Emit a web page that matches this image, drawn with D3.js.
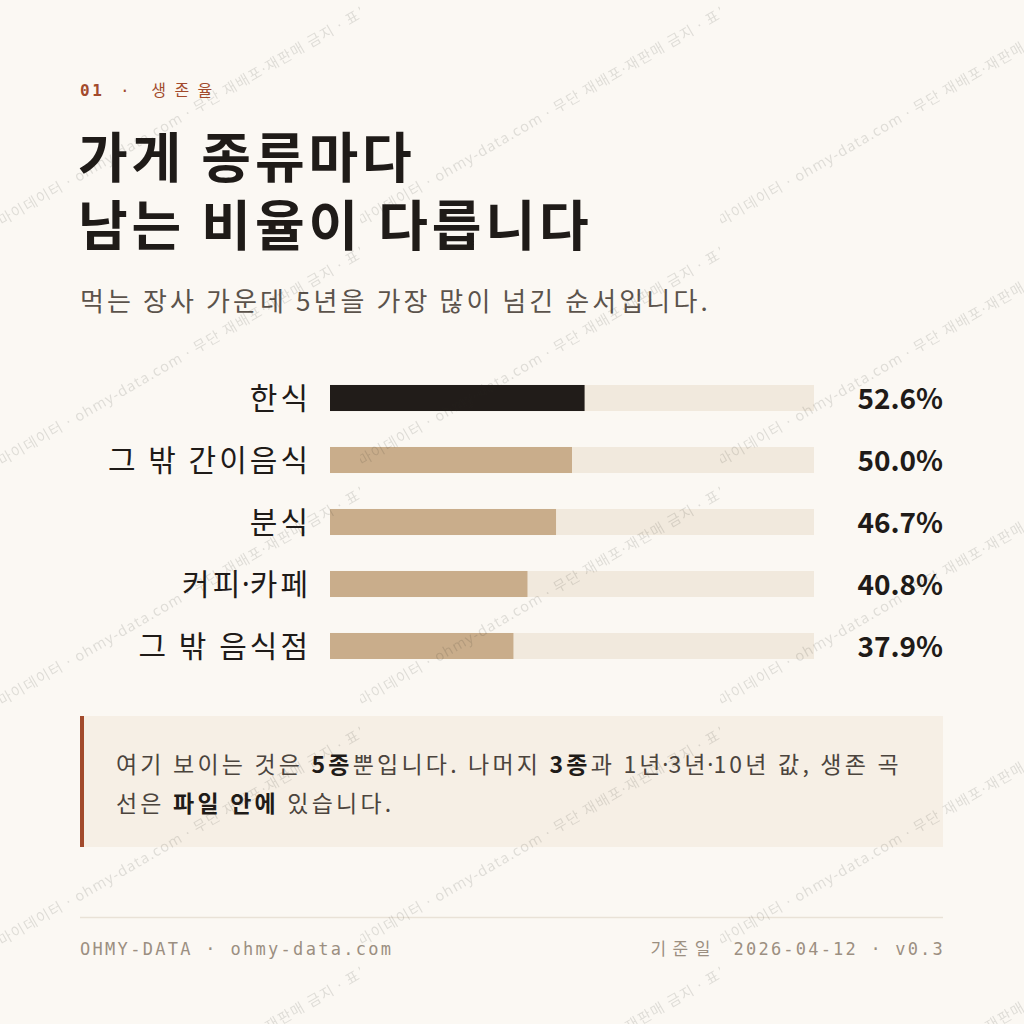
<!DOCTYPE html>
<html>
<head>
<meta charset="utf-8">
<script src="https://cdn.jsdelivr.net/npm/d3@7"></script>
<style>
  html, body { margin: 0; padding: 0; background: #fbf8f3; }
  svg { display: block; }
</style>
</head>
<body>
<div id="chart"></div>
<script>
// data
var categories = ["한식", "그 밖 간이음식", "분식", "커피·카페", "그 밖 음식점"];
var survival5y = [52.6, 50.0, 46.7, 40.8, 37.9];
var highlight = "한식";

var kicker = ["01", "생존율"];
var titleLines = ["가게 종류마다", "남는 비율이 다릅니다"];
var subtitle = "먹는 장사 가운데 5년을 가장 많이 넘긴 순서입니다.";
// note: [text, bold?]
var noteLine1 = [["여기 보이는 것은 ", false], ["5종", true], ["뿐입니다. 나머지 ", false], ["3종", true], ["과 1년·3년·10년 값, 생존 곡", false]];
var noteLine2 = [["선은 ", false], ["파일 안에", true], [" 있습니다.", false]];
var footLeft = "OHMY-DATA · ohmy-data.com";
var footRight = ["기준일", "2026-04-12 · v0.3"];
var watermark = "마이데이터 · ohmy-data.com · 무단 재배포·재판매 금지 · 표본";

var W = 1024, H = 1024;
var sans = "'Noto Sans CJK KR', 'Noto Sans', sans-serif";
var latin = "'Noto Sans', 'Noto Sans CJK KR', sans-serif";
var mono = "'DejaVu Sans Mono', 'Noto Sans CJK KR', monospace";
var ink = "#1f1b18", rust = "#a24a2c";

// the middle dot is wide in the CJK font, so it goes in its own tspan
function richText(sel, str) {
  str.split(/(·)/).forEach(function(part) {
    if (!part) return;
    var t = sel.append("tspan").text(part);
    if (part === "·") t.attr("font-family", latin).attr("letter-spacing", 0).attr("dx", -1.5);
  });
}

var svg = d3.select("#chart").append("svg")
    .attr("width", W)
    .attr("height", H);

svg.append("rect").attr("width", W).attr("height", H).attr("fill", "#fbf8f3");

// header
var k = svg.append("text")
    .attr("x", 80).attr("y", 96)
    .attr("font-family", mono)
    .attr("font-size", 16)
    .attr("fill", rust);
k.append("tspan").attr("font-weight", 700).attr("letter-spacing", 2.5).text(kicker[0]);
k.append("tspan").attr("letter-spacing", 6).text(" · ");
k.append("tspan").attr("letter-spacing", 8.5).text(kicker[1]);

svg.selectAll("text.title").data(titleLines).enter().append("text")
    .attr("class", "title")
    .attr("x", 78)
    .attr("y", function(d, i) { return 178 + i * 68; })
    .attr("font-family", sans)
    .attr("font-weight", 700)
    .attr("font-size", 54)
    .attr("letter-spacing", 3.9)
    .attr("fill", ink)
    .text(function(d) { return d; });

svg.append("text")
    .attr("x", 80).attr("y", 311)
    .attr("font-family", sans)
    .attr("font-size", 26)
    .attr("letter-spacing", 3.1)
    .attr("fill", "#5b534b")
    .text(subtitle);

// bars
var x = d3.scaleLinear().domain([0, 100]).range([330, 814]);
var y = d3.scaleBand().domain(categories).range([367, 677]).paddingInner(0.58).paddingOuter(0.29);

var rows = svg.append("g").selectAll("g").data(categories).enter().append("g")
    .attr("transform", function(d) { return "translate(0," + y(d) + ")"; });

rows.append("rect")
    .attr("x", x(0)).attr("width", x(100) - x(0))
    .attr("height", y.bandwidth())
    .attr("fill", "#f1e9dd");

rows.append("rect")
    .attr("x", x(0))
    .attr("width", function(d, i) { return x(survival5y[i]) - x(0); })
    .attr("height", y.bandwidth())
    .attr("fill", function(d) { return d === highlight ? "#211c19" : "#c9ad8b"; });

rows.append("text")
    .attr("x", 311)
    .attr("y", y.bandwidth() / 2)
    .attr("dy", "0.36em")
    .attr("text-anchor", "end")
    .attr("font-family", sans)
    .attr("font-size", 30)
    .attr("letter-spacing", 3)
    .attr("fill", ink)
    .each(function(d) { richText(d3.select(this), d); });

rows.append("text")
    .attr("x", 943)
    .attr("y", y.bandwidth() / 2)
    .attr("dy", "0.38em")
    .attr("text-anchor", "end")
    .attr("font-family", sans)
    .attr("font-weight", 700)
    .attr("font-size", 28)
    .attr("fill", ink)
    .text(function(d, i) { return d3.format(".1f")(survival5y[i]) + "%"; });

// note box
svg.append("rect").attr("x", 80).attr("y", 716).attr("width", 863).attr("height", 131).attr("fill", "#f6efe5");
svg.append("rect").attr("x", 80).attr("y", 716).attr("width", 4).attr("height", 131).attr("fill", rust);

[noteLine1, noteLine2].forEach(function(line, li) {
  var t = svg.append("text")
      .attr("x", 116).attr("y", 773 + li * 39)
      .attr("font-family", sans)
      .attr("font-size", 23)
      .attr("letter-spacing", 3.2)
      .attr("fill", "#4b443d");
  line.forEach(function(d) {
    var span = t.append("tspan")
        .attr("font-weight", d[1] ? 700 : 400)
        .attr("fill", d[1] ? ink : null);
    richText(span, d[0]);
  });
});

// footer
svg.append("line").attr("x1", 80).attr("x2", 943).attr("y1", 917.5).attr("y2", 917.5)
    .attr("stroke", "#e9e2d7").attr("stroke-width", 1.5);

svg.append("text")
    .attr("x", 80).attr("y", 955)
    .attr("font-family", mono)
    .attr("font-size", 17)
    .attr("letter-spacing", 2.3)
    .attr("fill", "#9b8f81")
    .text(footLeft);

var fr = svg.append("text")
    .attr("x", 945).attr("y", 955)
    .attr("text-anchor", "end")
    .attr("font-family", mono)
    .attr("font-size", 17)
    .attr("fill", "#9b8f81");
fr.append("tspan").attr("letter-spacing", 6.5).text(footRight[0] + " ");
fr.append("tspan").attr("letter-spacing", 2.2).text(footRight[1]);

// watermark tiles
var pat = svg.append("defs").append("pattern")
    .attr("id", "wm")
    .attr("patternUnits", "userSpaceOnUse")
    .attr("width", 360).attr("height", 240);
pat.append("text")
    .attr("transform", "translate(2,226) rotate(-30)")
    .attr("font-family", latin)
    .attr("font-size", 14.5)
    .attr("letter-spacing", 1.2)
    .attr("fill", "#1f1b18")
    .attr("fill-opacity", 0.13)
    .text(watermark);
svg.append("rect").attr("width", W).attr("height", H).attr("fill", "url(#wm)").style("pointer-events", "none");
</script>
</body>
</html>
